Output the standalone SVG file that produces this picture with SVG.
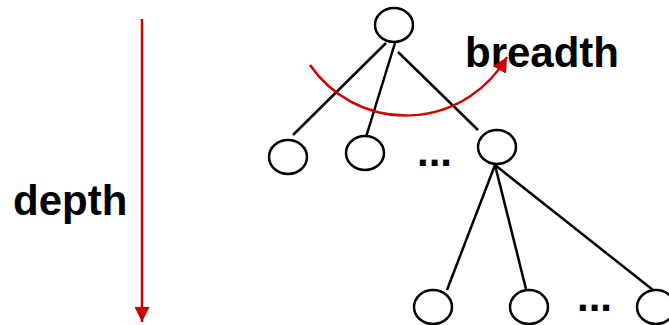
<svg xmlns="http://www.w3.org/2000/svg" width="669" height="325" viewBox="0 0 669 325">
  <defs>
    <marker id="redHead" markerUnits="userSpaceOnUse" markerWidth="16" markerHeight="16" refX="15" refY="7.5" orient="auto">
      <path d="M0,0 L15,7.5 L0,15 Z" fill="#cc0000"/>
    </marker>
    <style>
      .node { fill: #ffffff; stroke: #000000; stroke-width: 2.5; }
      .edge { stroke: #000000; stroke-width: 2.5; fill: none; }
      .red { stroke: #cc0000; stroke-width: 2.5; fill: none; marker-end: url(#redHead); }
      .lbl { font-family: "Liberation Sans", Arial, sans-serif; font-weight: bold; font-size: 42px; fill: #000000; }
    </style>
  </defs>

  <!-- tree edges -->
  <g id="connectors">
    <line class="edge" x1="386" y1="43" x2="293" y2="135"/>
    <line class="edge" x1="395" y1="43" x2="366" y2="137"/>
    <line class="edge" x1="398" y1="52" x2="478" y2="130"/>
    <line class="edge" x1="495" y1="165" x2="447" y2="290"/>
    <line class="edge" x1="495" y1="165" x2="526" y2="289"/>
    <line class="edge" x1="495" y1="165" x2="653" y2="290"/>
  </g>

  <!-- nodes -->
  <g id="root"><ellipse class="node" cx="394" cy="25" rx="19" ry="17"/></g>
  <g id="child1"><ellipse class="node" cx="288" cy="157" rx="19" ry="17"/></g>
  <g id="child2"><ellipse class="node" cx="365" cy="153" rx="19" ry="17"/></g>
  <g id="child3"><ellipse class="node" cx="497" cy="147" rx="19" ry="17"/></g>
  <g id="leaf1"><ellipse class="node" cx="433" cy="307" rx="19" ry="17"/></g>
  <g id="leaf2"><ellipse class="node" cx="529" cy="307" rx="19" ry="17"/></g>
  <g id="leaf3"><ellipse class="node" cx="656" cy="307" rx="19" ry="17"/></g>

  <!-- ellipsis markers -->
  <text class="lbl" x="417" y="166">...</text>
  <text class="lbl" x="577" y="311">...</text>

  <text class="lbl" x="13" y="215">depth</text>
  <text class="lbl" x="465" y="67">breadth</text>

  <!-- depth / breadth arrows, drawn over the labels -->
  <path class="red" d="M142,19 L142,322"/>
  <path class="red" d="M310,65 A116.5,116.5 0 0 0 507,57"/>
</svg>
